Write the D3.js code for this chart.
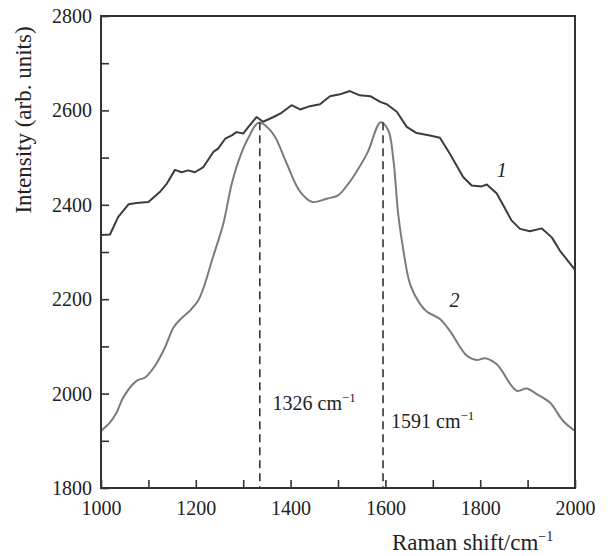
<!DOCTYPE html>
<html>
<head>
<meta charset="utf-8">
<script src="https://cdn.jsdelivr.net/npm/d3@7/dist/d3.min.js"></script>
<style>
  html, body { margin: 0; padding: 0; background: #fff; }
  svg { display: block; font-family: "Liberation Serif", "Times New Roman", serif; }
</style>
</head>
<body>
<svg id="chart" width="608" height="556"></svg>
<script>
// ---- data ----
const shift1 = [1000,1019,1036,1058,1075,1100,1124,1139,1156,1170,1184,1198,1216,1237,1247,1262,1276,1286,1300,1311,1328,1342,1364,1381,1402,1420,1441,1462,1483,1504,1525,1546,1568,1589,1603,1624,1645,1666,1694,1715,1736,1764,1782,1803,1814,1835,1866,1884,1905,1930,1951,1968,2000];
const intensity1 = [2336,2337,2374,2401,2404,2406,2427,2445,2474,2469,2473,2469,2480,2512,2519,2540,2547,2554,2551,2565,2586,2576,2586,2595,2611,2602,2609,2613,2630,2634,2641,2632,2630,2618,2613,2597,2565,2552,2547,2542,2508,2459,2441,2439,2443,2424,2367,2349,2344,2350,2331,2303,2262];

const shift2 = [1000,1019,1033,1047,1075,1093,1114,1135,1153,1170,1188,1205,1219,1234,1241,1258,1276,1293,1311,1332,1349,1367,1392,1420,1446,1476,1500,1522,1532,1562,1590,1606,1617,1627,1638,1652,1673,1687,1715,1736,1772,1793,1810,1835,1877,1898,1919,1947,1975,2000];
const intensity2 = [1921,1939,1960,1992,2027,2034,2059,2098,2140,2160,2176,2197,2232,2282,2304,2360,2445,2501,2542,2574,2566,2544,2487,2428,2406,2413,2420,2445,2459,2510,2575,2558,2494,2380,2303,2232,2190,2174,2158,2133,2080,2071,2075,2062,2006,2011,1999,1981,1942,1921];

const peakShifts = [1335, 1595];
const peakTops = [2575, 2575];
const peakLabels = ["1326", "1591"];
const peakLabelPos = [[1362, 1965], [1612, 1928]];

const curveLabels = ["1", "2"];
const curveLabelPos = [[1835, 2458], [1735, 2184]];

const xTicks = d3.range(1000, 2001, 100);
const yTicks = d3.range(1800, 2801, 100);

// ---- layout ----
const svg = d3.select("#chart");
const x = d3.scaleLinear().domain([1000, 2000]).range([101, 575]);
const y = d3.scaleLinear().domain([1800, 2800]).range([488, 16]);
const axisColor = "#333";

// curves
svg.append("path")
  .datum(shift2.map((s, i) => [s, intensity2[i]]))
  .attr("fill", "none").attr("stroke", "#7b7b7b").attr("stroke-width", 2)
  .attr("stroke-linejoin", "round")
  .attr("d", d3.line().x(d => x(d[0])).y(d => y(d[1])).curve(d3.curveCatmullRom.alpha(0.5)));
svg.append("path")
  .datum(shift1.map((s, i) => [s, intensity1[i]]))
  .attr("fill", "none").attr("stroke", "#3c3c3c").attr("stroke-width", 2)
  .attr("stroke-linejoin", "round")
  .attr("d", d3.line().x(d => x(d[0])).y(d => y(d[1])));

// dashed peak lines
peakShifts.forEach((p, i) => {
  svg.append("line")
    .attr("x1", x(p)).attr("x2", x(p))
    .attr("y1", y(peakTops[i])).attr("y2", y(1800))
    .attr("stroke", "#333").attr("stroke-width", 1.6)
    .attr("stroke-dasharray", "8,5");
  const t = svg.append("text")
    .attr("x", x(peakLabelPos[i][0])).attr("y", y(peakLabelPos[i][1]))
    .attr("font-size", 20).attr("fill", "#222");
  t.append("tspan").text(peakLabels[i] + " cm");
  t.append("tspan").attr("font-size", 13).attr("dy", -8).text("\u22121");
});

// curve labels
curveLabels.forEach((c, i) => {
  svg.append("text")
    .attr("x", x(curveLabelPos[i][0])).attr("y", y(curveLabelPos[i][1]))
    .attr("font-size", 20).attr("font-style", "italic").attr("fill", "#222")
    .text(c);
});

// axes
const yAxis = d3.axisLeft(y).tickValues(yTicks).tickSizeInner(-8).tickSizeOuter(0).tickPadding(9)
  .tickFormat(d => d % 200 === 0 ? d : "");
const xAxis = d3.axisBottom(x).tickValues(xTicks).tickSizeInner(-8).tickSizeOuter(0).tickPadding(13)
  .tickFormat(d => d % 200 === 0 ? d : "");

const gy = svg.append("g").attr("transform", `translate(${x(1000)},0)`).call(yAxis);
const gx = svg.append("g").attr("transform", `translate(0,${y(1800)})`).call(xAxis);
[gx, gy].forEach(g => {
  g.select(".domain").remove();
  g.selectAll(".tick line").attr("stroke", axisColor).attr("stroke-width", 1.6);
  g.selectAll(".tick text").attr("font-size", 20).attr("fill", "#222")
    .attr("font-family", "Liberation Serif, Times New Roman, serif");
});

// frame
svg.append("rect")
  .attr("x", x(1000)).attr("y", y(2800))
  .attr("width", x(2000) - x(1000)).attr("height", y(1800) - y(2800))
  .attr("fill", "none").attr("stroke", axisColor).attr("stroke-width", 2);

// axis titles
svg.append("text")
  .attr("transform", "translate(31,120) rotate(-90)")
  .attr("text-anchor", "middle").attr("font-size", 23).attr("fill", "#222")
  .text("Intensity (arb. units)");

const xt = svg.append("text")
  .attr("x", 392).attr("y", 550)
  .attr("font-size", 23).attr("fill", "#222");
xt.append("tspan").text("Raman shift/cm");
xt.append("tspan").attr("font-size", 14).attr("dy", -9).text("\u22121");
</script>
</body>
</html>
